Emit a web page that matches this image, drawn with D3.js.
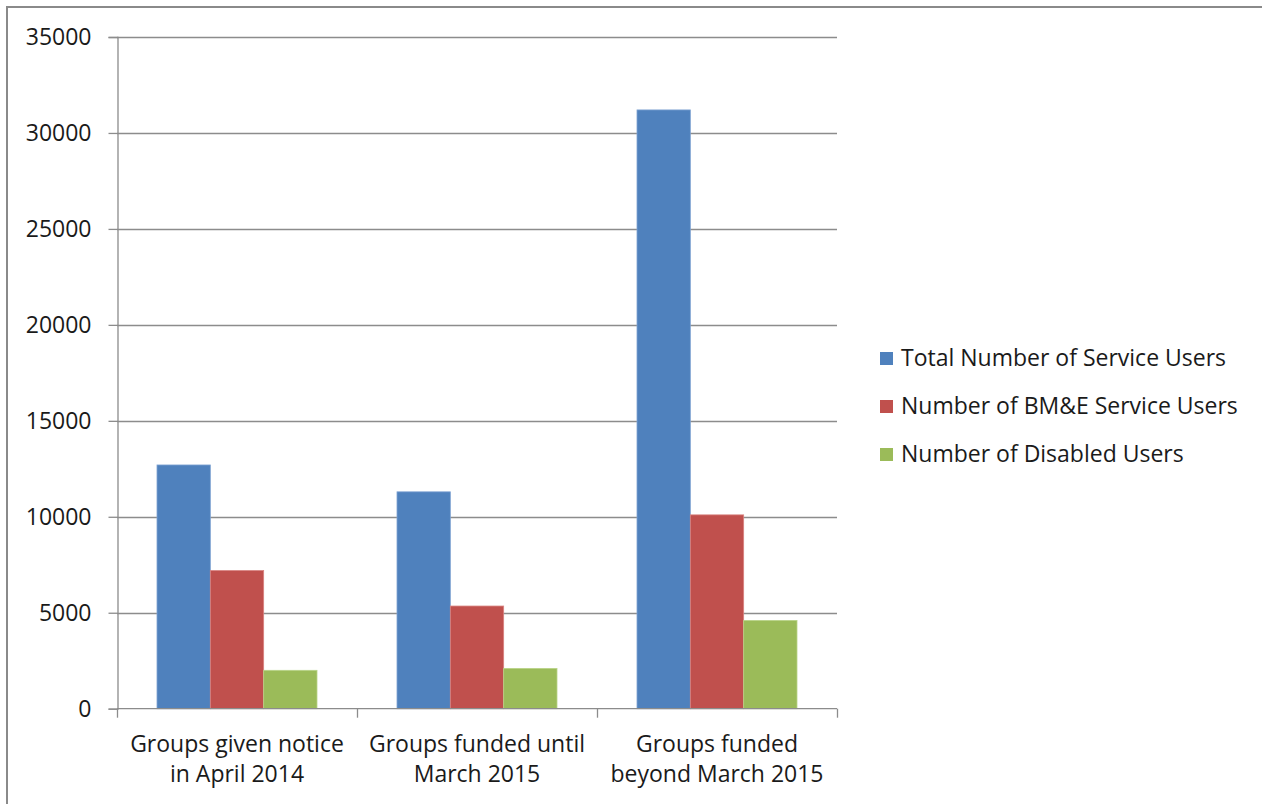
<!DOCTYPE html>
<html>
<head>
<meta charset="utf-8">
<script src="https://cdn.jsdelivr.net/npm/d3@7"></script>
<style>
  html, body { margin: 0; padding: 0; background: #fff; }
  svg { display: block; }
  text { font-family: "Open Sans", "Liberation Sans", sans-serif; fill: #1a1a1a; }
</style>
</head>
<body>
<svg id="chart" width="1262" height="804"></svg>
<script>
// Service users by funding status of groups
const categories = [
  ["Groups given notice", "in April 2014"],
  ["Groups funded until", "March 2015"],
  ["Groups funded", "beyond March 2015"]
];
const seriesNames = [
  "Total Number of Service Users",
  "Number of BM&E Service Users",
  "Number of Disabled Users"
];
const totalUsers    = [12700, 11300, 31200];
const bmeUsers      = [7200, 5350, 10100];
const disabledUsers = [2000, 2100, 4600];
const yTicks = [0, 5000, 10000, 15000, 20000, 25000, 30000, 35000];
const colors = ["#4F81BD", "#C0504D", "#9BBB59"];
const edgeColors = ["#7fa3d3", "#d98481", "#b9d488"];

const series = [totalUsers, bmeUsers, disabledUsers];
const fontSize = 23;

const svg = d3.select("#chart");

// outer frame
svg.append("rect")
  .attr("x", 7).attr("y", 7)
  .attr("width", 1262).attr("height", 804)
  .attr("fill", "none")
  .attr("stroke", "#8a8a8a")
  .attr("stroke-width", 2);

const plotLeft = 117, plotRight = 837, plotTop = 37, plotBottom = 708.7;

const x = d3.scaleBand()
  .domain(d3.range(categories.length))
  .range([plotLeft, plotRight])
  .paddingInner(0).paddingOuter(0);

// bars take 2/3 of each category band, centred
const barGroupWidth = x.bandwidth() * 2 / 3;
const sub = d3.scaleBand()
  .domain(d3.range(series.length))
  .range([(x.bandwidth() - barGroupWidth) / 2, (x.bandwidth() + barGroupWidth) / 2]);

const y = d3.scaleLinear().domain([0, 35000]).range([plotBottom, plotTop]);

// gridlines
svg.append("g")
  .selectAll("line")
  .data(yTicks.filter(d => d > 0))
  .join("line")
  .attr("x1", plotLeft).attr("x2", plotRight)
  .attr("y1", d => Math.round(y(d)) + 0.5)
  .attr("y2", d => Math.round(y(d)) + 0.5)
  .attr("stroke", "#8c8c8c")
  .attr("stroke-width", 1.3);

// y axis
const yAxis = d3.axisLeft(y)
  .tickValues(yTicks)
  .tickSize(9)
  .tickPadding(17)
  .tickFormat(d3.format("d"));
const yg = svg.append("g")
  .attr("transform", `translate(${plotLeft + 0.5},0)`)
  .call(yAxis);
yg.select(".domain").attr("stroke", "#8c8c8c").attr("stroke-width", 1.3);
yg.selectAll(".tick line").attr("stroke", "#8c8c8c").attr("stroke-width", 1.3);
yg.selectAll(".tick text")
  .attr("font-size", fontSize)
  .attr("font-family", "Open Sans, Liberation Sans, sans-serif")
  .attr("fill", "#1a1a1a");

// bars
series.forEach((vals, si) => {
  svg.append("g")
    .selectAll("rect")
    .data(vals)
    .join("rect")
    .attr("x", (d, i) => x(i) + sub(si))
    .attr("y", d => y(d))
    .attr("width", sub.bandwidth())
    .attr("height", d => plotBottom - y(d))
    .attr("fill", colors[si])
    .attr("stroke", edgeColors[si])
    .attr("stroke-width", 0.8);
});

// x axis baseline and ticks
const xg = svg.append("g");
xg.append("line")
  .attr("x1", plotLeft).attr("x2", plotRight)
  .attr("y1", plotBottom).attr("y2", plotBottom)
  .attr("stroke", "#8c8c8c").attr("stroke-width", 1.3);
const boundaries = d3.range(categories.length + 1).map(i => plotLeft + i * x.bandwidth());
xg.selectAll("line.tick")
  .data(boundaries)
  .join("line")
  .attr("class", "tick")
  .attr("x1", d => d + 0.5).attr("x2", d => d + 0.5)
  .attr("y1", plotBottom).attr("y2", plotBottom + 9)
  .attr("stroke", "#8c8c8c").attr("stroke-width", 1.3);

// category labels
categories.forEach((lines, i) => {
  const t = svg.append("text")
    .attr("text-anchor", "middle")
    .attr("font-size", fontSize)
    .attr("x", x(i) + x.bandwidth() / 2)
    .attr("y", 752);
  lines.forEach((ln, li) => {
    t.append("tspan")
      .attr("x", x(i) + x.bandwidth() / 2)
      .attr("dy", li === 0 ? 0 : 30)
      .text(ln);
  });
});

// legend
const legend = svg.append("g").attr("transform", "translate(880,0)");
seriesNames.forEach((name, i) => {
  const yy = 366 + i * 48;
  legend.append("rect")
    .attr("x", 0).attr("y", yy - 14)
    .attr("width", 13).attr("height", 13)
    .attr("fill", colors[i]);
  legend.append("text")
    .attr("x", 21).attr("y", yy)
    .attr("font-size", fontSize)
    .text(name);
});
</script>
</body>
</html>
